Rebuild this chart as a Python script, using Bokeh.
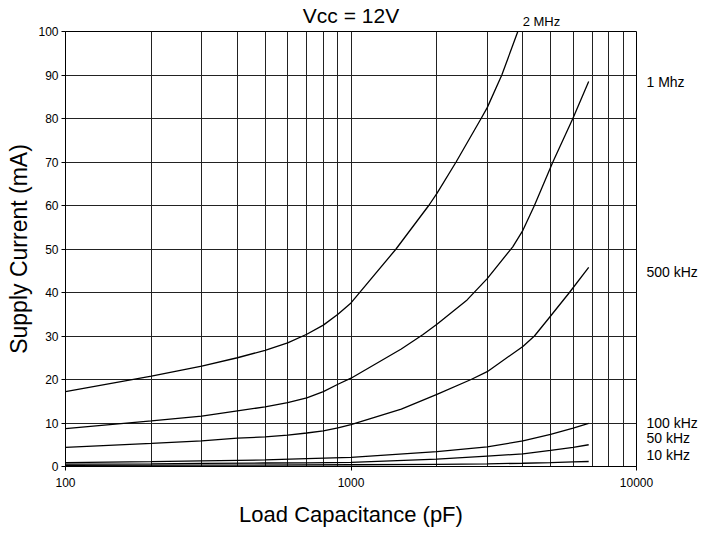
from bokeh.plotting import figure
from bokeh.models import FixedTicker, Range1d, LinearAxis, LogAxis
from bokeh.embed import file_html
from bokeh.resources import INLINE

# ---- data (Load capacitance pF -> supply current mA) ----
c_2mhz = [100, 200, 300, 400, 500, 600, 700, 800, 900, 1000, 1438, 1872, 2000, 2334, 2856, 3000, 3375, 3840]
i_2mhz = [17.2, 20.8, 23.1, 25.0, 26.7, 28.4, 30.4, 32.5, 35.0, 37.6, 50, 60, 62.8, 70, 80, 82.5, 90, 100]

c_1mhz = [100, 200, 300, 400, 500, 600, 700, 800, 900, 1000, 1500, 1783, 2000, 2551, 3000, 3686, 4000, 4390, 5094, 5985, 6800]
i_1mhz = [8.7, 10.5, 11.6, 12.8, 13.7, 14.7, 15.8, 17.2, 18.9, 20.3, 27.0, 30.3, 32.7, 38.3, 43.2, 50.5, 54.3, 60, 70, 80, 88.5]

c_500k = [100, 200, 300, 400, 500, 600, 700, 800, 900, 1000, 1500, 2000, 2634, 3000, 4000, 4390, 4890, 5823, 6800]
i_500k = [4.4, 5.3, 5.9, 6.5, 6.8, 7.2, 7.7, 8.2, 8.9, 9.6, 13.2, 16.6, 20, 21.8, 27.6, 30, 33.8, 40, 45.8]

c_100k = [100, 200, 300, 500, 700, 1000, 2000, 3000, 4000, 5000, 6000, 6800]
i_100k = [0.9, 1.1, 1.3, 1.5, 1.8, 2.1, 3.4, 4.5, 5.9, 7.4, 8.8, 9.9]

c_50k = [100, 200, 300, 500, 700, 1000, 2000, 3000, 4000, 5000, 6000, 6800]
i_50k = [0.55, 0.6, 0.7, 0.8, 0.85, 0.95, 1.7, 2.4, 2.9, 3.7, 4.4, 5.0]

c_10k = [100, 300, 1000, 2000, 3000, 4000, 5000, 6000, 6800]
i_10k = [0.25, 0.3, 0.4, 0.5, 0.6, 0.75, 0.9, 1.05, 1.15]

x_major = [100, 1000, 10000]
x_grid = [100, 200, 300, 400, 500, 600, 700, 800, 900,
          1000, 2000, 3000, 4000, 5000, 6000, 7000, 8000, 9000, 10000]
y_ticks = [0, 10, 20, 30, 40, 50, 60, 70, 80, 90, 100]

# series names shown at the right edge, with the height at which each sits
right_names = ["1 Mhz", "500 kHz", "100 kHz", "50 kHz", "10 kHz"]
right_pos = [88.5, 44.6, 10.1, 6.6, 2.7]
top_name = "2 MHz"
top_pos = 4645
title_text = "Vcc = 12V"

FONT = "Liberation Sans"

p = figure(width=700, height=530, x_axis_type="log",
           x_range=Range1d(100, 10000), y_range=Range1d(0, 100),
           output_backend="svg", toolbar_location=None,
           min_border_left=65, min_border_right=64,
           min_border_top=30, min_border_bottom=64)
p.background_fill_color = "white"
p.border_fill_color = "white"
p.outline_line_color = "black"
p.outline_line_width = 1

# grids
p.xgrid.ticker = FixedTicker(ticks=x_grid)
p.xgrid.grid_line_color = "#222222"
p.xgrid.grid_line_width = 1
p.ygrid.ticker = FixedTicker(ticks=y_ticks)
p.ygrid.grid_line_color = "#222222"
p.ygrid.grid_line_width = 1

# main axes
for ax in (p.xaxis[0], p.yaxis[0]):
    ax.axis_line_color = "black"
    ax.major_tick_line_color = "black"
    ax.major_tick_out = 4
    ax.major_tick_in = 0
    ax.minor_tick_line_color = None
    ax.major_label_text_font = FONT
    ax.major_label_text_font_size = "12px"
    ax.major_label_text_color = "black"
    ax.axis_label_text_font = FONT
    ax.axis_label_text_font_style = "normal"
    ax.axis_label_text_color = "black"

xa = p.xaxis[0]
xa.ticker = FixedTicker(ticks=x_major)
xa.major_label_overrides = {100: "100", 1000: "1000", 10000: "10000"}
xa.major_label_standoff = 7
xa.axis_label = "Load Capacitance (pF)"
xa.axis_label_text_font_size = "22px"
xa.axis_label_standoff = 12

ya = p.yaxis[0]
ya.ticker = FixedTicker(ticks=y_ticks)
ya.major_label_standoff = 3
ya.axis_label = "Supply Current (mA)"
ya.axis_label_text_font_size = "23px"
ya.axis_label_standoff = 3

# right-side series names
ra = LinearAxis(ticker=FixedTicker(ticks=right_pos),
                major_label_overrides={v: n for v, n in zip(right_pos, right_names)})
ra.axis_line_color = None
ra.major_tick_line_color = None
ra.minor_tick_line_color = None
ra.major_tick_out = 0
ra.major_tick_in = 0
ra.major_label_standoff = 10
ra.major_label_text_font = FONT
ra.major_label_text_font_size = "14px"
ra.major_label_text_color = "black"
p.add_layout(ra, "right")

# top: "2 MHz" tag and the title
ta = LogAxis(ticker=FixedTicker(ticks=[top_pos]),
             major_label_overrides={top_pos: top_name})
ta.axis_line_color = None
ta.major_tick_line_color = None
ta.minor_tick_line_color = None
ta.major_tick_out = 0
ta.major_tick_in = 0
ta.major_label_standoff = 3
ta.major_label_text_font = FONT
ta.major_label_text_font_size = "13px"
ta.major_label_text_color = "black"
ta.axis_label = title_text
ta.axis_label_text_font = FONT
ta.axis_label_text_font_style = "normal"
ta.axis_label_text_font_size = "21px"
ta.axis_label_text_color = "black"
ta.axis_label_standoff = -16
p.add_layout(ta, "above")

# curves
for cx, cy in [(c_2mhz, i_2mhz), (c_1mhz, i_1mhz), (c_500k, i_500k),
               (c_100k, i_100k), (c_50k, i_50k), (c_10k, i_10k)]:
    p.line(cx, cy, line_color="black", line_width=1.3)

open("out.html", "w").write(file_html(p, INLINE))
